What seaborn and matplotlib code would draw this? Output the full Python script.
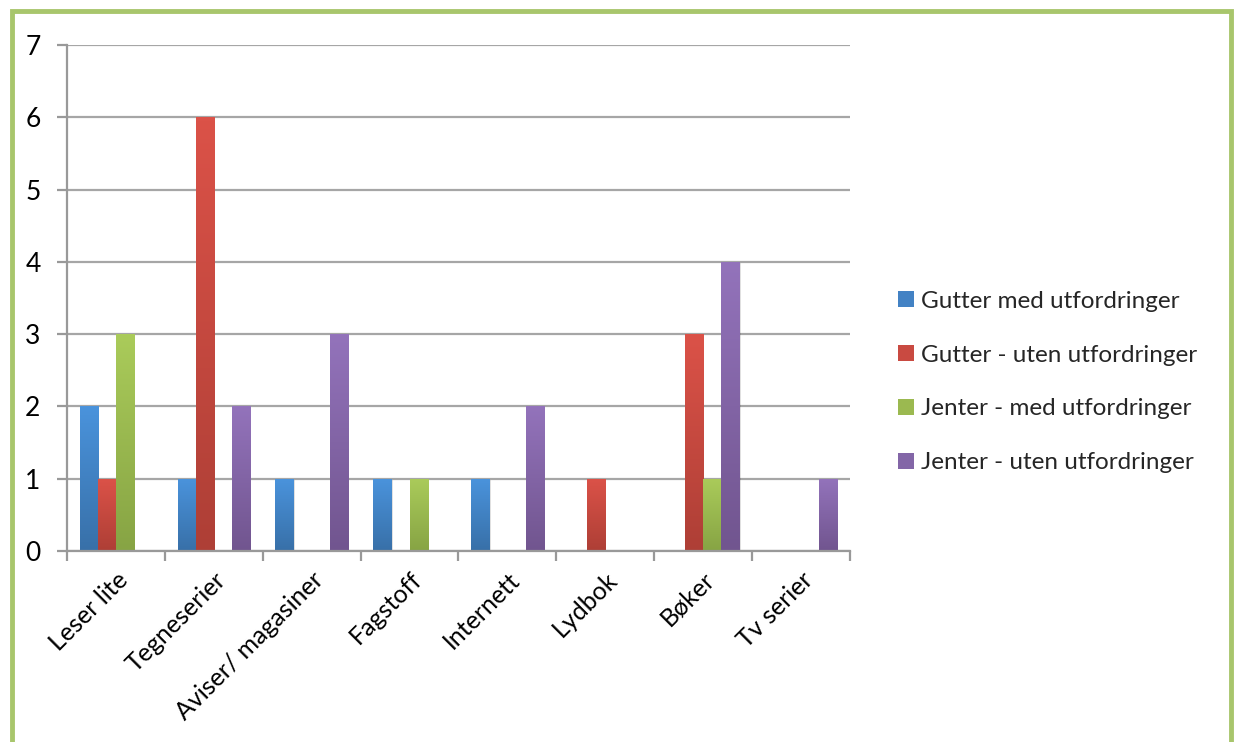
import numpy as np
import pandas as pd
import matplotlib
matplotlib.use("Agg")
import matplotlib.pyplot as plt
import seaborn as sns
from matplotlib.colors import LinearSegmentedColormap
from matplotlib.patches import Rectangle

categories = ["Leser lite", "Tegneserier", "Aviser/ magasiner", "Fagstoff",
              "Internett", "Lydbok", "Bøker", "Tv serier"]
series_names = ["Gutter med utfordringer", "Gutter - uten utfordringer",
                "Jenter - med utfordringer", "Jenter - uten utfordringer"]
gutter_med = [2, 1, 1, 1, 1, 0, 0, 0]
gutter_uten = [1, 6, 0, 0, 0, 1, 3, 0]
jenter_med = [3, 0, 0, 1, 0, 0, 1, 0]
jenter_uten = [0, 2, 3, 0, 2, 0, 4, 1]
y_ticks = [0, 1, 2, 3, 4, 5, 6, 7]

top_colors = ["#4A93DC", "#DB5248", "#AACB5A", "#9373BB"]
bot_colors = ["#3870A8", "#AE3F36", "#87A444", "#71558F"]
mid_colors = ["#4382C4", "#C94A41", "#9BB950", "#8366A7"]

rows = []
for name, vals in zip(series_names, [gutter_med, gutter_uten, jenter_med, jenter_uten]):
    for c, v in zip(categories, vals):
        rows.append({"kategori": c, "serie": name, "verdi": v})
df = pd.DataFrame(rows)

sns.set_theme(style="white")
plt.rcParams["font.family"] = ["Lato", "DejaVu Sans"]

fig = plt.figure(figsize=(12.34, 7.42), dpi=100)
ax = fig.add_axes([67 / 1234, 1 - 551 / 742, (850 - 67) / 1234, (551 - 45) / 742])

sns.barplot(data=df, x="kategori", y="verdi", hue="serie", order=categories,
            hue_order=series_names, palette=mid_colors, width=0.74,
            ax=ax, saturation=1, edgecolor="none", linewidth=0, errorbar=None)

# gradients on bars
for i, cont in enumerate(ax.containers):
    cmap = LinearSegmentedColormap.from_list("g%d" % i, [bot_colors[i], top_colors[i]])
    grad = np.linspace(1, 0, 100).reshape(-1, 1)
    for p in cont.patches:
        h = p.get_height()
        if h <= 0:
            p.set_visible(False)
            continue
        x0 = p.get_x()
        w = p.get_width()
        # soft shadow
        ax.add_patch(Rectangle((x0 + 0.012, 0), w, h - 0.02, facecolor="#000000",
                               alpha=0.12, zorder=p.get_zorder() - 0.1, linewidth=0))
        im = ax.imshow(grad, extent=[x0, x0 + w, 0, h], aspect="auto", cmap=cmap,
                       zorder=p.get_zorder() + 0.01, interpolation="bilinear")
        im.set_clip_path(p)

ax.set_xlim(-0.5, len(categories) - 0.5)
ax.set_ylim(0, 7)
ax.set_yticks(y_ticks)
ax.set_xlabel("")
ax.set_ylabel("")

ax.yaxis.grid(True, color="#A6A6A6", linewidth=1.6)
ax.set_axisbelow(True)
for s in ["top", "right"]:
    ax.spines[s].set_visible(False)
for s in ["left", "bottom"]:
    ax.spines[s].set_color("#999999")
    ax.spines[s].set_linewidth(1.6)

ax.tick_params(axis="y", which="major", length=7, width=1.6, color="#999999",
               labelsize=19, labelcolor="black", pad=12, left=True)
ax.set_xticks(range(len(categories)))
ax.set_xticklabels(categories, rotation=45, ha="right", rotation_mode="anchor",
                   fontsize=18, color="black")
ax.tick_params(axis="x", which="major", length=0, pad=12)
ax.set_xticks(np.arange(-0.5, len(categories) + 0.5, 1), minor=True)
ax.tick_params(axis="x", which="minor", length=7, width=1.6, color="#999999", bottom=True)

# legend
handles = [Rectangle((0, 0), 1, 1, facecolor=c, edgecolor="none") for c in mid_colors]
leg = ax.legend(handles, series_names, loc="center left",
                bbox_to_anchor=(888 / 1234, 1 - 382 / 742),
                bbox_transform=fig.transFigure, frameon=False, fontsize=17.5,
                handlelength=0.65, handleheight=0.65, handletextpad=0.3,
                labelspacing=1.35, borderaxespad=0)

# green border
fig.add_artist(Rectangle((12 / 1234, -0.1), (1231 - 12) / 1234, (731 / 742) + 0.1,
                         transform=fig.transFigure, fill=False,
                         edgecolor="#A8C66C", linewidth=3.5, clip_on=False))

fig.savefig("out.png", dpi=100)
